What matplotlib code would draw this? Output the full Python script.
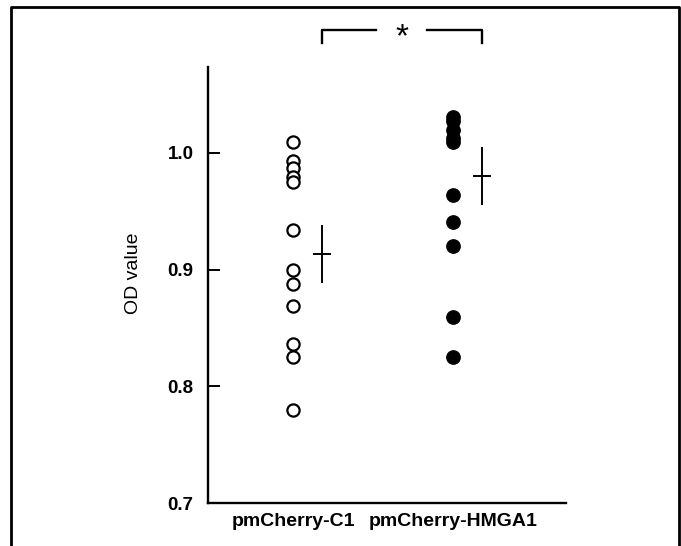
import matplotlib
matplotlib.use("Agg")
import matplotlib.pyplot as plt
from matplotlib.lines import Line2D

plt.rcParams['font.family'] = ['Liberation Sans', 'DejaVu Sans']

# data
groups = ['pmCherry-C1', 'pmCherry-HMGA1']
od_c1 = [1.009, 0.993, 0.987, 0.979, 0.975, 0.934, 0.900, 0.888, 0.869, 0.836, 0.825, 0.780]
od_hmga1 = [1.031, 1.027, 1.020, 1.013, 1.009, 0.964, 0.941, 0.920, 0.859, 0.825]
means = [0.913, 0.980]
sems = [0.024, 0.024]
yticks = [0.7, 0.8, 0.9, 1.0]

W, H = 681, 546
fig = plt.figure(figsize=(W / 100, H / 100), dpi=100)

# axes placed in pixels: left 208, right 566, top 67, bottom 503
ax = fig.add_axes([208 / W, 1 - 503 / H, (566 - 208) / W, (503 - 67) / H])

pos = [1, 2]
off = 0.18  # mean marker offset from the points

ax.plot([pos[0]] * len(od_c1), od_c1, 'o', ms=8.8, mfc='white', mec='black', mew=1.6, clip_on=False)
ax.plot([pos[1]] * len(od_hmga1), od_hmga1, 'o', ms=9.6, mfc='black', mec='black', clip_on=False)

# mean +- sem crosses
for p, m, s in zip(pos, means, sems):
    ax.plot([p + off, p + off], [m - s, m + s], color='black', lw=1.4)
    ax.plot([p + off - 0.05, p + off + 0.05], [m, m], color='black', lw=1.4)

ax.set_xlim(0.469, 2.706)
ax.set_ylim(0.7, 1.0737)

ax.spines['top'].set_visible(False)
ax.spines['right'].set_visible(False)
ax.spines['left'].set_linewidth(1.7)
ax.spines['bottom'].set_linewidth(1.7)

ax.set_yticks(yticks)
ax.set_yticklabels(['%.1f' % v for v in yticks], fontsize=13.5, fontweight='bold')
ax.tick_params(axis='y', direction='in', length=8.6, width=1.4, pad=10.5)
ax.set_xticks(pos)
ax.set_xticklabels(groups, fontsize=14, fontweight='bold')
ax.tick_params(axis='x', length=0, pad=7)

fig.text(133 / W, 1 - 273 / H, 'OD value', rotation=90, ha='center', va='center', fontsize=14)

# significance bracket between the two means
x1, x2 = pos[0] + off, pos[1] + off
yb, yt = 1.094, 1.105
xm = (x1 + x2) / 2
gap = 0.16
ax.plot([x1, x1, xm - gap], [yb, yt, yt], color='black', lw=1.7, clip_on=False)
ax.plot([xm + gap, x2, x2], [yt, yt, yb], color='black', lw=1.7, clip_on=False)
ax.text(xm, yt - 0.006, '*', ha='center', va='center', fontsize=24, clip_on=False)

# outer frame (open at the bottom)
frame = Line2D([11 / W, 11 / W, 679 / W, 679 / W], [0, 1 - 7 / H, 1 - 7 / H, 0],
               transform=fig.transFigure, color='black', lw=2)
fig.add_artist(frame)

fig.savefig('out.png', dpi=100)
